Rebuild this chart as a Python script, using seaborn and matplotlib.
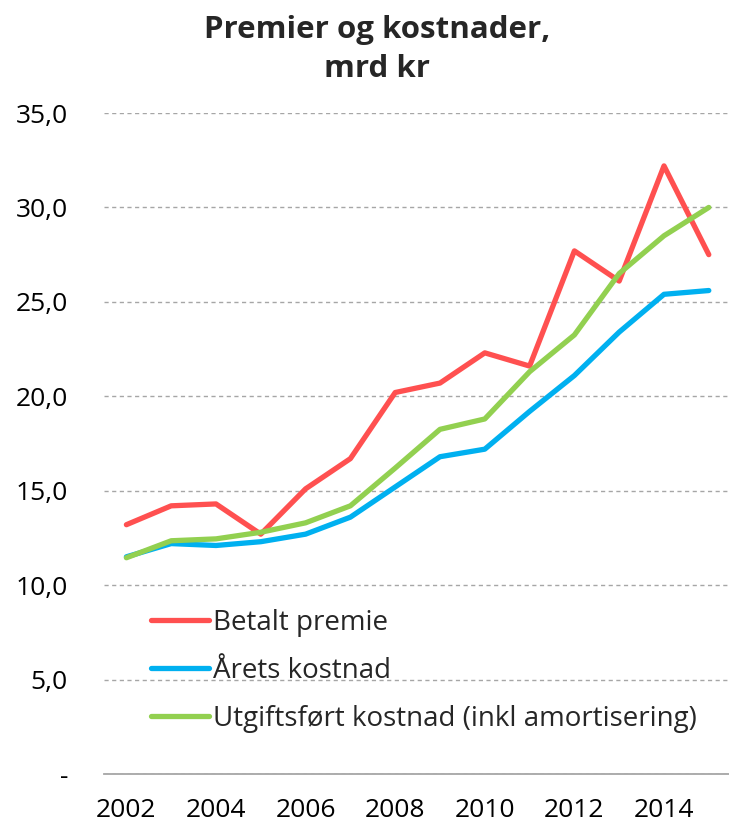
import matplotlib
matplotlib.use("Agg")
import matplotlib.pyplot as plt
import seaborn as sns
import pandas as pd
import numpy as np
from matplotlib.ticker import FixedLocator, FuncFormatter

years = list(range(2002, 2016))
betalt_premie = [13.2, 14.2, 14.3, 12.7, 15.1, 16.7, 20.2, 20.7, 22.3, 21.6, 27.7, 26.1, 32.2, 27.5]
arets_kostnad = [11.5, 12.2, 12.1, 12.3, 12.7, 13.6, 15.2, 16.8, 17.2, 19.2, 21.1, 23.4, 25.4, 25.6]
utgiftsfort = [11.45, 12.35, 12.45, 12.8, 13.3, 14.2, 16.2, 18.25, 18.8, 21.3, 23.25, 26.5, 28.5, 30.0]

series_names = ["Betalt premie", "Årets kostnad", "Utgiftsført kostnad (inkl amortisering)"]
colors = ["#FF5050", "#00B0F0", "#92D050"]
yticks = [0, 5, 10, 15, 20, 25, 30, 35]
xtick_labels = [2002, 2004, 2006, 2008, 2010, 2012, 2014]
title_lines = ["Premier og kostnader,", "mrd kr"]

df = pd.DataFrame({
    "year": years * 3,
    "value": betalt_premie + arets_kostnad + utgiftsfort,
    "serie": [series_names[0]] * len(years) + [series_names[1]] * len(years) + [series_names[2]] * len(years),
})

sns.set_style("white")
plt.rcParams["font.family"] = ["Open Sans", "DejaVu Sans"]

W, H = 729, 826
fig = plt.figure(figsize=(W / 100, H / 100), dpi=100)
left_px, right_px, top_px, bottom_px = 104, 729, 113, 774
ax = fig.add_axes([left_px / W, 1 - bottom_px / H, (right_px - left_px) / W, (bottom_px - top_px) / H])

sns.lineplot(data=df, x="year", y="value", hue="serie", palette=dict(zip(series_names, colors)),
             linewidth=3.8, ax=ax, legend=False, zorder=3)
for line in ax.lines:
    line.set_solid_capstyle("round")
    line.set_solid_joinstyle("round")

slot = 44.8
ax.set_xlim(2001.5, 2001.5 + (right_px - left_px) / slot)
ax.set_ylim(0, 35)

ax.set_xlabel("")
ax.set_ylabel("")

for s in ["top", "right", "left"]:
    ax.spines[s].set_visible(False)
ax.spines["bottom"].set_color("#A6A6A6")
ax.spines["bottom"].set_linewidth(1.3)
ax.spines["bottom"].set_zorder(2.5)

ax.yaxis.set_major_locator(FixedLocator(yticks))
ax.yaxis.set_major_formatter(FuncFormatter(lambda v, p: "-" if v == 0 else f"{v:.1f}".replace(".", ",")))
ax.tick_params(axis="y", length=0, pad=26, labelsize=19, labelcolor="#000000")
ax.set_axisbelow(True)
ax.yaxis.grid(True, color="#A6A6A6", linestyle=(0, (3, 2.5)), linewidth=1.0)
ax.xaxis.grid(False)

ax.xaxis.set_major_locator(FixedLocator(xtick_labels))
ax.xaxis.set_major_formatter(FuncFormatter(lambda v, p: f"{int(round(v))}"))
ax.xaxis.set_minor_locator(FixedLocator([y - 0.5 for y in range(2002, 2019)]))
ax.tick_params(axis="x", which="major", length=0, pad=17, labelsize=19, labelcolor="#000000")
ax.tick_params(axis="x", which="minor", length=6, width=1.2, color="#A6A6A6", direction="out")

handles = [plt.Line2D([0], [0], color=c, linewidth=3.8, solid_capstyle="round") for c in colors]
fig.legend(handles, series_names, loc="upper left", bbox_to_anchor=(151 / W, 1 - 609 / H),
           frameon=False, fontsize=20, handlelength=2.1, handletextpad=0.12,
           labelspacing=0.72, borderpad=0, borderaxespad=0)

fig.text(377 / W, 1 - 38 / H, title_lines[0], ha="center", va="baseline", fontsize=22.5, fontweight="bold")
fig.text(377 / W, 1 - 77 / H, title_lines[1], ha="center", va="baseline", fontsize=22.5, fontweight="bold")

fig.savefig("out.png", dpi=100)
